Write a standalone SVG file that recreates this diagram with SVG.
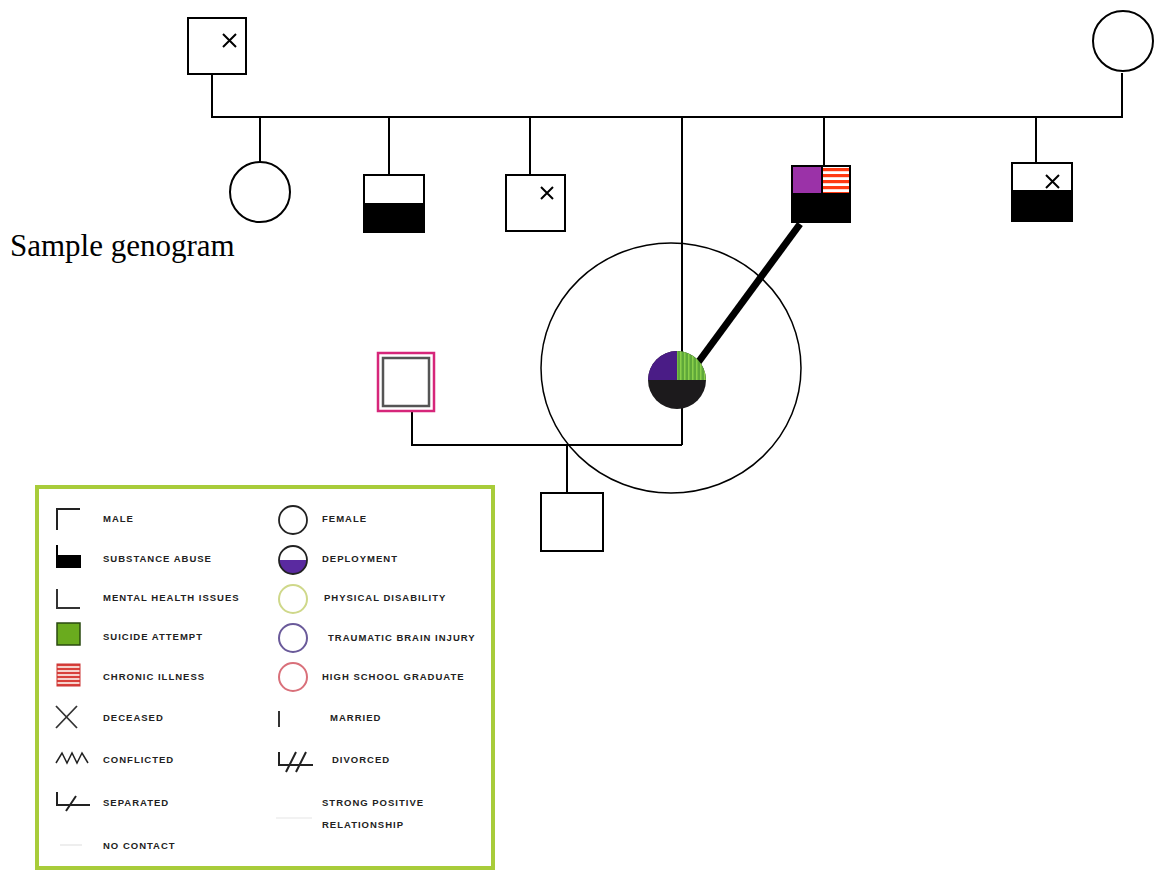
<svg xmlns="http://www.w3.org/2000/svg" width="1158" height="871" viewBox="0 0 1158 871">
  <style>
    .ln { stroke: #000; stroke-width: 2; fill: none; }
    .nd { stroke: #000; stroke-width: 2; fill: #fff; }
    .x { stroke: #000; stroke-width: 2; }
    .lg { font-family: "Liberation Sans", Arial, sans-serif; font-size: 9.5px; font-weight: bold; letter-spacing: 1px; fill: #222; }
    .ls { stroke: #222; stroke-width: 2; fill: none; }
    .title { font-family: "Liberation Serif", "Times New Roman", serif; font-size: 31px; fill: #000; }
  </style>
  <defs>
    <pattern id="stripes" x="0" y="0" width="30" height="6" patternUnits="userSpaceOnUse">
      <rect width="30" height="6" fill="#fff"/>
      <rect y="0" width="30" height="3.2" fill="#ff3a12"/>
    </pattern>
    <pattern id="stripesL" x="0" y="0" width="24" height="4" patternUnits="userSpaceOnUse">
      <rect width="24" height="4" fill="#f6d2cc"/>
      <rect width="24" height="2" fill="#d8403a"/>
    </pattern>
    <pattern id="greenStripe" x="0" y="0" width="4" height="30" patternUnits="userSpaceOnUse">
      <rect width="4" height="30" fill="#5fa83a"/>
      <rect width="1.5" height="30" fill="#8ad04a"/>
    </pattern>
    <clipPath id="probClip"><circle cx="677" cy="380" r="29"/></clipPath>
    <clipPath id="depClip"><circle cx="293" cy="560" r="14"/></clipPath>
  </defs>

  <rect width="1158" height="871" fill="#fff"/>

  <g id="connectors">
    <polyline class="ln" points="212,74 212,117 1122,117 1122,73"/>
    <line class="ln" x1="260" y1="117" x2="260" y2="162"/>
    <line class="ln" x1="389" y1="117" x2="389" y2="175"/>
    <line class="ln" x1="530" y1="117" x2="530" y2="175"/>
    <line class="ln" x1="824" y1="117" x2="824" y2="165"/>
    <line class="ln" x1="1036" y1="117" x2="1036" y2="163"/>
    <line class="ln" x1="682" y1="117" x2="682" y2="445"/>
    <polyline class="ln" points="412,412 412,445 682,445"/>
    <line class="ln" x1="567" y1="445" x2="567" y2="493"/>
    <line x1="697" y1="364" x2="800" y2="224" stroke="#000" stroke-width="7"/>
  </g>

  <g id="grandfather">
    <rect class="nd" x="188" y="18" width="58" height="56"/>
    <path class="x" d="M223,34 L236,47 M236,34 L223,47"/>
  </g>
  <g id="grandmother">
    <circle class="nd" cx="1123" cy="41" r="30"/>
  </g>
  <g id="child-female">
    <circle class="nd" cx="260" cy="192" r="30"/>
  </g>
  <g id="child-substance">
    <rect class="nd" x="364" y="175" width="60" height="57"/>
    <rect x="364" y="203" width="60" height="29" fill="#000"/>
  </g>
  <g id="child-deceased">
    <rect class="nd" x="506" y="175" width="59" height="56"/>
    <path class="x" d="M541,187 L553,199 M553,187 L541,199"/>
  </g>
  <g id="child-multi">
    <rect x="791" y="165" width="60" height="58" fill="#000"/>
    <rect x="793" y="167" width="28" height="26" fill="#9b32a8"/>
    <rect x="823" y="167" width="26" height="26" fill="url(#stripes)"/>
  </g>
  <g id="child-deceased-substance">
    <rect class="nd" x="1012" y="163" width="60" height="58"/>
    <rect x="1012" y="190" width="60" height="31" fill="#000"/>
    <path class="x" d="M1046,175 L1059,188 M1059,175 L1046,188"/>
  </g>
  <g id="proband-circle">
    <ellipse cx="671" cy="368" rx="130" ry="125" fill="none" stroke="#000" stroke-width="1.5"/>
  </g>
  <g id="proband">
    <g clip-path="url(#probClip)">
      <rect x="647" y="350" width="60" height="60" fill="#1c1a1c"/>
      <rect x="647" y="350" width="30" height="30" fill="#4a1c86"/>
      <rect x="677" y="350" width="30" height="30" fill="url(#greenStripe)"/>
    </g>
  </g>
  <g id="spouse">
    <rect x="378" y="353" width="56" height="58" fill="#fff" stroke="#d6267a" stroke-width="2.5"/>
    <rect x="383" y="358" width="46" height="48" fill="#fff" stroke="#555" stroke-width="2.5"/>
  </g>
  <g id="grandchild">
    <rect class="nd" x="541" y="493" width="62" height="58"/>
  </g>

  <text class="title" x="10" y="256">Sample genogram</text>

  <g id="legend">
    <rect x="37" y="487" width="456" height="381" fill="#fff" stroke="#a8cc3a" stroke-width="4"/>
    <!-- left column -->
    <path class="ls" d="M57,530 L57,509 L80,509"/>
    <text class="lg" x="103" y="522">MALE</text>
    <path d="M56,545 L58,545 L58,555 L81,555 L81,568 L56,568 Z" fill="#000"/>
    <text class="lg" x="103" y="562">SUBSTANCE ABUSE</text>
    <path d="M57,589 L57,608 L80,608" stroke="#333" stroke-width="2" fill="none"/>
    <text class="lg" x="103" y="601">MENTAL HEALTH ISSUES</text>
    <rect x="57" y="623" width="23" height="22" fill="#6aab1e" stroke="#2a4a10" stroke-width="1.5"/>
    <text class="lg" x="103" y="640">SUICIDE ATTEMPT</text>
    <rect x="57" y="664" width="23" height="22" fill="url(#stripesL)" stroke="#c33" stroke-width="1"/>
    <text class="lg" x="103" y="680">CHRONIC ILLNESS</text>
    <path d="M56,706 L77,728 M77,706 L56,728" stroke="#333" stroke-width="1.8"/>
    <text class="lg" x="103" y="721">DECEASED</text>
    <path d="M56,763 L62,753 L67,763 L72,753 L77,763 L82,753 L88,763" stroke="#222" stroke-width="1.5" fill="none"/>
    <text class="lg" x="103" y="763">CONFLICTED</text>
    <path class="ls" d="M57,792 L57,805 L90,805 M66,811 L76,796"/>
    <text class="lg" x="103" y="806">SEPARATED</text>
    <line x1="60" y1="845" x2="82" y2="845" stroke="#eee" stroke-width="2"/>
    <text class="lg" x="103" y="849">NO CONTACT</text>
    <!-- right column -->
    <circle cx="293" cy="520" r="14" fill="none" stroke="#222" stroke-width="1.8"/>
    <text class="lg" x="322" y="522">FEMALE</text>
    <g clip-path="url(#depClip)">
      <rect x="278" y="560" width="30" height="16" fill="#5a2aa0"/>
    </g>
    <circle cx="293" cy="560" r="14" fill="none" stroke="#222" stroke-width="1.8"/>
    <text class="lg" x="322" y="562">DEPLOYMENT</text>
    <circle cx="293" cy="599" r="14" fill="none" stroke="#cfd88a" stroke-width="2"/>
    <text class="lg" x="324" y="601">PHYSICAL DISABILITY</text>
    <circle cx="293" cy="638" r="14" fill="none" stroke="#6a5a9a" stroke-width="2"/>
    <text class="lg" x="328" y="641">TRAUMATIC BRAIN INJURY</text>
    <circle cx="293" cy="677" r="14" fill="none" stroke="#d9707a" stroke-width="2"/>
    <text class="lg" x="322" y="680">HIGH SCHOOL GRADUATE</text>
    <line x1="279" y1="711" x2="279" y2="727" stroke="#333" stroke-width="2"/>
    <text class="lg" x="330" y="721">MARRIED</text>
    <path class="ls" d="M279,752 L279,765 L313,765 M286,772 L296,752 M296,772 L306,752"/>
    <text class="lg" x="332" y="763">DIVORCED</text>
    <text class="lg" x="322" y="806">STRONG POSITIVE</text>
    <text class="lg" x="322" y="828">RELATIONSHIP</text>
    <line x1="276" y1="818" x2="312" y2="818" stroke="#f2f2f2" stroke-width="2"/>
  </g>
</svg>
